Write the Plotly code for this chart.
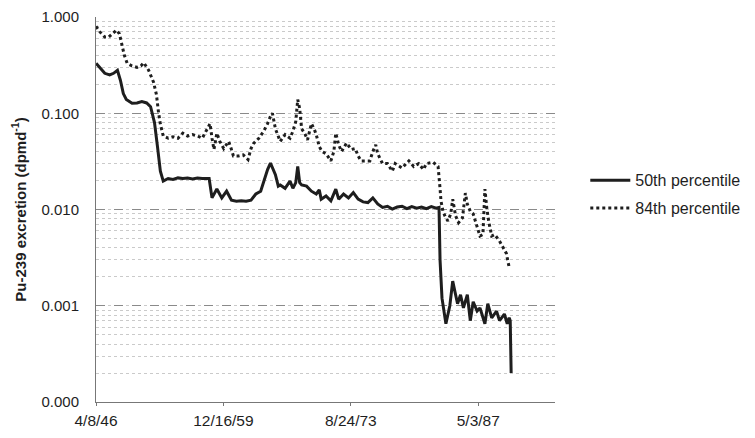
import plotly.graph_objects as go
from datetime import datetime

# ---- data (decimal years, values in dpm/d) ----
p50_years = [1946.27, 1946.69, 1947.21, 1947.74, 1948.15, 1948.57, 1948.89, 1949.20, 1949.52,
             1950.14, 1950.67, 1951.19, 1951.71, 1952.13, 1952.55, 1952.87, 1953.18, 1953.49,
             1954.02, 1954.54, 1955.07, 1955.59, 1956.11, 1956.64, 1957.16, 1957.68, 1958.21,
             1958.42, 1958.73, 1959.25, 1959.78, 1960.30, 1960.82, 1961.35, 1961.87, 1962.39,
             1962.92, 1963.44, 1963.96, 1964.28, 1964.70, 1965.01, 1965.33, 1965.54, 1965.85,
             1966.06, 1966.58, 1967.11, 1967.42, 1967.73, 1967.94, 1968.15, 1968.36, 1968.89,
             1969.41, 1969.93, 1970.25, 1970.46, 1970.98, 1971.50, 1972.03, 1972.34, 1972.86,
             1973.39, 1973.91, 1974.43, 1974.96, 1975.48, 1976.01, 1976.53, 1977.05, 1977.58,
             1978.10, 1978.62, 1979.15, 1979.67, 1980.19, 1980.72, 1981.24, 1981.76, 1982.29,
             1982.81, 1983.12, 1983.23, 1983.44, 1983.86, 1984.28, 1984.59, 1984.90, 1985.11,
             1985.43, 1985.74, 1986.16, 1986.48, 1986.79, 1987.21, 1987.52, 1988.05, 1988.36,
             1988.78, 1989.30, 1989.62, 1990.14, 1990.45, 1990.66, 1990.77, 1990.87]
p50_values = [0.33, 0.30, 0.26, 0.25, 0.26, 0.28, 0.22, 0.16, 0.139,
              0.127, 0.128, 0.132, 0.128, 0.117, 0.08, 0.045, 0.025, 0.0197,
              0.021, 0.0205, 0.0213, 0.021, 0.0212, 0.0208, 0.0212, 0.021, 0.0212,
              0.021, 0.0132, 0.0163, 0.0132, 0.0155, 0.0125, 0.0122, 0.0123, 0.0122,
              0.0125, 0.0145, 0.0155, 0.0197, 0.026, 0.0304, 0.026, 0.023, 0.0175,
              0.018, 0.0166, 0.0197, 0.0166, 0.019, 0.028, 0.019, 0.018, 0.0175,
              0.0155, 0.0145, 0.016, 0.0128, 0.0138, 0.0123, 0.0163, 0.0128, 0.0145,
              0.0132, 0.015, 0.0128, 0.012, 0.0118, 0.0132, 0.0114, 0.0105, 0.0108,
              0.0101, 0.0106, 0.0108, 0.0102, 0.0107, 0.0103, 0.0106, 0.0102, 0.0107,
              0.0103, 0.0105, 0.003, 0.0012, 0.00065, 0.001, 0.0018, 0.0013, 0.00105,
              0.0013, 0.00095, 0.0013, 0.0007, 0.0011, 0.00088, 0.00095, 0.00065, 0.00105,
              0.00075, 0.00088, 0.0007, 0.00082, 0.00065, 0.00075, 0.0007, 0.0002]

p84_years = [1946.27, 1946.69, 1947.21, 1947.63, 1947.95, 1948.47, 1948.78, 1949.10, 1949.31,
             1949.62, 1950.14, 1950.67, 1951.09, 1951.40, 1951.92, 1952.45, 1952.76, 1952.97,
             1953.18, 1953.49, 1954.02, 1954.54, 1955.07, 1955.59, 1956.11, 1956.64, 1957.16,
             1957.68, 1958.21, 1958.52, 1958.73, 1958.94, 1959.25, 1959.57, 1959.99, 1960.51,
             1960.72, 1961.03, 1961.56, 1962.08, 1962.60, 1962.92, 1963.23, 1963.76, 1964.28,
             1964.70, 1965.01, 1965.22, 1965.54, 1965.85, 1966.06, 1966.58, 1967.11, 1967.42,
             1967.73, 1967.94, 1968.15, 1968.36, 1968.68, 1968.99, 1969.41, 1969.72, 1969.93,
             1970.25, 1970.56, 1970.98, 1971.50, 1971.82, 1972.03, 1972.34, 1972.65, 1973.18,
             1973.70, 1974.12, 1974.43, 1974.75, 1975.17, 1975.69, 1976.01, 1976.32, 1976.53,
             1977.05, 1977.58, 1978.10, 1978.41, 1979.15, 1979.88, 1980.40, 1980.93, 1981.45,
             1981.76, 1982.50, 1983.02, 1983.12, 1983.23, 1983.33, 1983.54, 1983.75, 1984.07,
             1984.38, 1984.59, 1984.90, 1985.22, 1985.64, 1985.95, 1986.16, 1986.48, 1986.79,
             1987.21, 1987.52, 1987.84, 1988.05, 1988.25, 1988.46, 1988.78, 1989.09, 1989.62,
             1989.93, 1990.35, 1990.66]
p84_values = [0.80, 0.70, 0.62, 0.62, 0.66, 0.73, 0.67, 0.51, 0.40,
              0.33, 0.31, 0.30, 0.31, 0.335, 0.28, 0.21, 0.156, 0.104,
              0.077, 0.058, 0.055, 0.057, 0.055, 0.062, 0.058, 0.06, 0.058,
              0.055, 0.069, 0.078, 0.055, 0.042, 0.062, 0.051, 0.043, 0.051,
              0.045, 0.036, 0.036, 0.037, 0.033, 0.043, 0.049, 0.055, 0.065,
              0.078, 0.093, 0.10, 0.069, 0.058, 0.051, 0.06, 0.055, 0.065,
              0.082, 0.139, 0.112, 0.069, 0.062, 0.053, 0.078, 0.068, 0.060,
              0.045, 0.040, 0.038, 0.032, 0.040, 0.062, 0.047, 0.040, 0.049,
              0.042, 0.043, 0.036, 0.032, 0.032, 0.032, 0.040, 0.047, 0.038,
              0.030, 0.030, 0.025, 0.030, 0.027, 0.032, 0.028, 0.030, 0.026,
              0.030, 0.031, 0.028, 0.023, 0.0166, 0.0123, 0.0096, 0.0086, 0.0076,
              0.009, 0.0128, 0.0086, 0.0073, 0.0082, 0.0148, 0.0114, 0.0096, 0.009,
              0.0064, 0.0053, 0.0055, 0.0163, 0.0104, 0.0075, 0.0053, 0.0055, 0.0047,
              0.0042, 0.0035, 0.0025]

x_tick_dates = ["1946-04-08", "1959-12-16", "1973-08-24", "1987-05-03"]
x_tick_labels = ["4/8/46", "12/16/59", "8/24/73", "5/3/87"]
y_tick_vals = [0.0001, 0.001, 0.01, 0.1, 1.0]
y_tick_labels = ["0.000", "0.001", "0.010", "0.100", "1.000"]


def to_date(y):
    yr = int(y)
    start = datetime(yr, 1, 1)
    end = datetime(yr + 1, 1, 1)
    return start + (end - start) * (y - yr)


FONT = "Liberation Sans, Arial, sans-serif"
INK = "#1e1e1e"

fig = go.Figure()
fig.add_trace(go.Scatter(
    x=[to_date(v) for v in p50_years], y=p50_values, mode="lines",
    name="50th percentile", legendgroup="a",
    line=dict(color=INK, width=3),
))
fig.add_trace(go.Scatter(
    x=[to_date(v) for v in p84_years], y=p84_values, mode="lines",
    name="84th percentile", legendgroup="b",
    line=dict(color=INK, width=3, dash="3px,3px"),
))

# page body has an 8px default margin, so the figure is sized to fit the window
fig.update_layout(
    width=747, height=430,
    margin=dict(l=88, r=188, t=9, b=36),
    paper_bgcolor="white", plot_bgcolor="white",
    font=dict(family=FONT, color=INK, size=15),
    showlegend=True,
    legend=dict(x=1.066, xanchor="left", y=0.62, yanchor="top",
                traceorder="grouped", tracegroupgap=4, itemwidth=40,
                font=dict(size=16, family=FONT, color=INK),
                bgcolor="rgba(0,0,0,0)"),
)

fig.update_xaxes(
    type="date",
    range=["1946-04-08", "1995-08-01"],
    tickvals=x_tick_dates, ticktext=x_tick_labels,
    showgrid=False, zeroline=False, automargin=False,
    showline=True, linecolor="#777", linewidth=1,
    ticks="outside", ticklen=3, tickcolor="#777",
    tickfont=dict(size=15.5, family=FONT, color=INK),
    ticklabelstandoff=1, ticklabeloverflow="allow",
)

fig.update_yaxes(
    type="log", range=[-4, 0], automargin=False,
    tickvals=y_tick_vals, ticktext=y_tick_labels,
    showgrid=True, gridcolor="#8a8a8a", griddash="dash", gridwidth=1,
    minor=dict(dtick="D1", showgrid=True, gridcolor="#cacaca", griddash="dot", ticks=""),
    zeroline=False,
    showline=True, linecolor="#777", linewidth=1,
    ticks="", ticklabelstandoff=13, ticklabeloverflow="allow",
    tickfont=dict(size=15, family=FONT, color=INK),
    title=dict(text="<b>Pu-239 excretion (dpmd<sup>-1</sup>)</b>",
               font=dict(size=15, family=FONT, color=INK), standoff=11),
)

fig.write_html("out.html")
